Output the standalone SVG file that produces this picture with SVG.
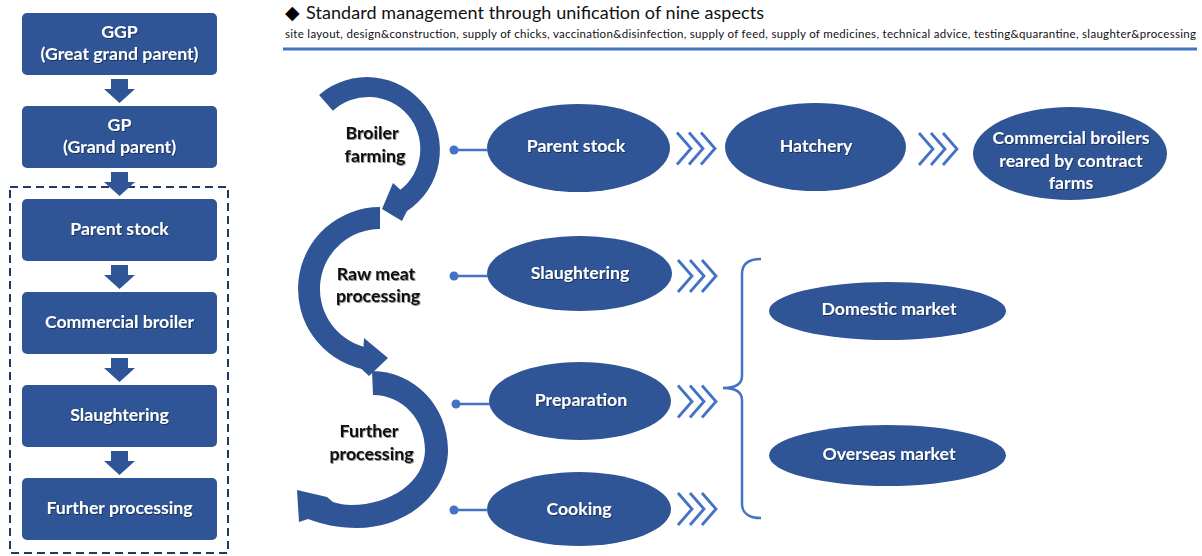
<svg xmlns="http://www.w3.org/2000/svg" width="1202" height="556" viewBox="0 0 1202 556">
  <defs>
    <style>
      .box { fill: #2F5597; }
      .node { fill: #2F5597; }
      .wt { fill: #FFFFFF; font-family: Lato, "Liberation Sans", sans-serif; font-weight: bold; text-anchor: middle; font-size: 17.7px; }
      .bt { fill: #111111; font-family: Lato, "Liberation Sans", sans-serif; font-weight: bold; text-anchor: middle; font-size: 17.8px; }
      .link { stroke: #4472C4; stroke-width: 2.5; fill: none; }
      .dot { fill: #4472C4; }
      .chev { stroke: #4472C4; stroke-width: 2.8; fill: none; }
      .cycle { fill: #2F5597; }
    </style>
    <filter id="shadow" x="-10%" y="-30%" width="120%" height="160%">
      <feDropShadow dx="0.8" dy="1" stdDeviation="0.6" flood-color="#000000" flood-opacity="0.45"/>
    </filter>
    <!-- block arrow pointing down, origin at the bottom edge of the box above -->
    <path id="downArrow" d="M-8.5,4 H8.5 V14 H15.5 L0,28 L-15.5,14 H-8.5 Z" fill="#2F5597"/>
    <!-- triple chevron, origin at the left/centre -->
    <g id="chevrons">
      <polyline class="chev" points="0,-16 14,0 0,16"/>
      <polyline class="chev" points="12,-16 26,0 12,16"/>
      <polyline class="chev" points="24,-16 38,0 24,16"/>
    </g>
  </defs>

  <rect width="1202" height="556" fill="#FFFFFF"/>

  <!-- breeding chain on the left -->
  <rect x="10" y="187" width="218" height="366" fill="none" stroke="#1F3864" stroke-width="2" stroke-dasharray="8,5"/>

  <g id="ggp">
    <rect class="box" x="22" y="13" width="195" height="62" rx="5"/>
    <text class="wt" x="119.5" y="38" filter="url(#shadow)">GGP</text>
    <text class="wt" x="119.5" y="60" filter="url(#shadow)">(Great grand parent)</text>
  </g>
  <g id="gp">
    <rect class="box" x="22" y="106" width="195" height="62" rx="5"/>
    <text class="wt" x="119.5" y="131" filter="url(#shadow)">GP</text>
    <text class="wt" x="119.5" y="153" filter="url(#shadow)">(Grand parent)</text>
  </g>
  <g id="chain-parent-stock">
    <rect class="box" x="22" y="199" width="195" height="62" rx="5"/>
    <text class="wt" x="119.5" y="234.5" filter="url(#shadow)">Parent stock</text>
  </g>
  <g id="chain-commercial-broiler">
    <rect class="box" x="22" y="292" width="195" height="62" rx="5"/>
    <text class="wt" x="119.5" y="327.5" filter="url(#shadow)">Commercial broiler</text>
  </g>
  <g id="chain-slaughtering">
    <rect class="box" x="22" y="385" width="195" height="62" rx="5"/>
    <text class="wt" x="119.5" y="420.5" filter="url(#shadow)">Slaughtering</text>
  </g>
  <g id="chain-further-processing">
    <rect class="box" x="22" y="478" width="195" height="62" rx="5"/>
    <text class="wt" x="119.5" y="514" filter="url(#shadow)">Further processing</text>
  </g>

  <!-- header -->
  <g id="header">
    <text x="285" y="19" font-family="'DejaVu Sans', sans-serif" font-size="19" fill="#000000">◆</text>
    <text x="306" y="19" font-family="Lato, 'Liberation Sans', sans-serif" font-size="18" fill="#111111" textLength="458">Standard management through unification of nine aspects</text>
    <text x="285" y="38" font-family="Lato, 'Liberation Sans', sans-serif" font-size="11.5" fill="#111111" textLength="911">site layout, design&amp;construction, supply of chicks, vaccination&amp;disinfection, supply of feed, supply of medicines, technical advice, testing&amp;quarantine, slaughter&amp;processing</text>
    <line x1="283" y1="49" x2="1197" y2="49" stroke="#4472C4" stroke-width="3"/>
  </g>

  <!-- cycle of stages -->
  <g id="stage-broiler-farming">
    <path class="cycle" d="M319.1,94.9 A73,73 0 1,1 406.8,211.2 L402,221 L382,209 L393,183 L400.4,189.8 A52,52 0 1,0 332.9,110.8 Z"/>
    <text class="bt" x="372" y="139" filter="url(#shadow)">Broiler</text>
    <text class="bt" x="375" y="162" filter="url(#shadow)">farming</text>
  </g>
  <g id="stage-raw-meat">
    <path class="cycle" d="M380,207 A82,82 0 0,0 361.6,368.9 L369,376 L388,358 L364,338 L363.5,346.7 A60,60 0 0,1 380,229 Z"/>
    <text class="bt" x="376" y="280" filter="url(#shadow)">Raw meat</text>
    <text class="bt" x="378" y="302" filter="url(#shadow)">processing</text>
  </g>
  <g id="stage-further-processing">
    <path class="cycle" d="M372,371 C414,371 448,406 448,450 C448,493 407,528 357,528 C338,528 321,524 308,519 L299,522 L297,490 L327,497 L333,502 C339,504 345,505 351,505 C391,505 425,481 425,450 C425,419 402,395 373,395 Z"/>
    <text class="bt" x="369" y="437" filter="url(#shadow)">Further</text>
    <text class="bt" x="371.5" y="460" filter="url(#shadow)">processing</text>
  </g>

  <!-- process nodes -->
  <g id="parent-stock">
    <ellipse class="node" cx="578.5" cy="148" rx="91.5" ry="44"/>
    <text class="wt" x="576" y="152" filter="url(#shadow)">Parent stock</text>
  </g>
  <g id="hatchery">
    <ellipse class="node" cx="815.5" cy="147" rx="90.5" ry="44"/>
    <text class="wt" x="816" y="152" filter="url(#shadow)">Hatchery</text>
  </g>
  <g id="commercial-broilers">
    <ellipse class="node" cx="1070" cy="153.5" rx="97" ry="46.5"/>
    <text class="wt" x="1071" y="144" filter="url(#shadow)">Commercial broilers</text>
    <text class="wt" x="1071" y="167" filter="url(#shadow)">reared by contract</text>
    <text class="wt" x="1071" y="189" filter="url(#shadow)">farms</text>
  </g>
  <g id="slaughtering">
    <ellipse class="node" cx="579.5" cy="273.5" rx="92.5" ry="37.5"/>
    <text class="wt" x="580" y="279" filter="url(#shadow)">Slaughtering</text>
  </g>
  <g id="preparation">
    <ellipse class="node" cx="580" cy="401" rx="91" ry="39"/>
    <text class="wt" x="581" y="406" filter="url(#shadow)">Preparation</text>
  </g>
  <g id="cooking">
    <ellipse class="node" cx="579" cy="509" rx="92" ry="37"/>
    <text class="wt" x="579" y="515" filter="url(#shadow)">Cooking</text>
  </g>
  <g id="domestic-market">
    <ellipse class="node" cx="887.5" cy="311" rx="118.5" ry="29"/>
    <text class="wt" x="889" y="315" filter="url(#shadow)">Domestic market</text>
  </g>
  <g id="overseas-market">
    <ellipse class="node" cx="887.5" cy="455.5" rx="118.5" ry="30.5"/>
    <text class="wt" x="889" y="460" filter="url(#shadow)">Overseas market</text>
  </g>

  <!-- connectors -->
  <g id="connectors">
    <use href="#downArrow" x="119.5" y="75"/>
    <use href="#downArrow" x="119.5" y="168"/>
    <use href="#downArrow" x="119.5" y="261"/>
    <use href="#downArrow" x="119.5" y="354"/>
    <use href="#downArrow" x="119.5" y="447"/>

    <line class="link" x1="454" y1="150" x2="488" y2="150"/>
    <circle class="dot" cx="454" cy="150" r="4.5"/>
    <line class="link" x1="454" y1="276" x2="488" y2="276"/>
    <circle class="dot" cx="454" cy="276" r="4.5"/>
    <line class="link" x1="456" y1="404" x2="490" y2="404"/>
    <circle class="dot" cx="456" cy="404" r="4.5"/>
    <line class="link" x1="454" y1="510" x2="488" y2="510"/>
    <circle class="dot" cx="454" cy="510" r="4.5"/>

    <use href="#chevrons" x="677" y="148.5"/>
    <use href="#chevrons" x="919" y="149"/>
    <use href="#chevrons" x="678" y="276"/>
    <use href="#chevrons" x="678" y="401.5"/>
    <use href="#chevrons" x="678" y="509"/>

    <path class="link" stroke-width="2" d="M761,259 C749,259 742,264 742,274 V376 C742,384 735,388 723,388 C735,388 742,392 742,400 V504 C742,513 749,518 761,518"/>
  </g>
</svg>
